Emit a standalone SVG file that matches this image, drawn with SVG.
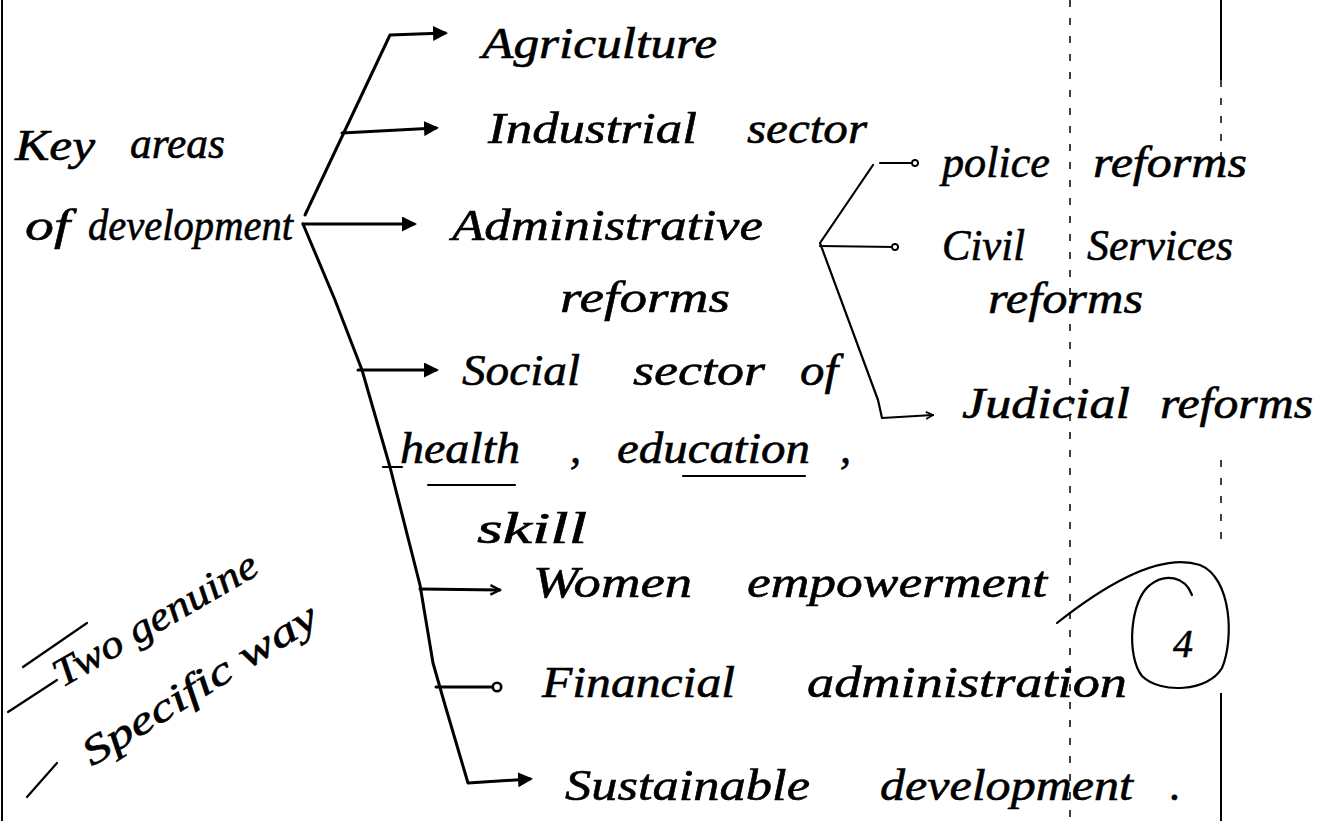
<svg xmlns="http://www.w3.org/2000/svg" width="1319" height="821" viewBox="0 0 1319 821">
  <defs>
    <marker id="tip" viewBox="0 0 10 10" refX="8" refY="5" markerWidth="5" markerHeight="5" orient="auto" markerUnits="strokeWidth">
      <path d="M0,0 L10,5 L0,10 z" fill="#000"/>
    </marker>
    <marker id="open" viewBox="0 0 10 10" refX="9" refY="5" markerWidth="4" markerHeight="4" orient="auto" markerUnits="strokeWidth">
      <path d="M1,1 L9,5 L1,9" fill="none" stroke="#000" stroke-width="2"/>
    </marker>
    <marker id="dot" viewBox="0 0 10 10" refX="5" refY="5" markerWidth="4" markerHeight="4" orient="auto" markerUnits="strokeWidth">
      <circle cx="5" cy="5" r="3.5" fill="#fff" stroke="#000" stroke-width="2.2"/>
    </marker>
  </defs>
  <style>
    .ink { fill: none; stroke: #000; stroke-width: 3; stroke-linecap: round; stroke-linejoin: round; }
    .thin { fill: none; stroke: #000; stroke-width: 2.2; stroke-linecap: round; stroke-linejoin: round; }
    .rule { fill: none; stroke: #000; stroke-width: 2; }
    .dash { fill: none; stroke: #000; stroke-width: 1.5; stroke-dasharray: 7 11; }
    text { font-family: "Liberation Serif", "DejaVu Serif", serif; font-style: italic; font-size: 44px; fill: #000; stroke: #000; stroke-width: 0.6; }
    .sm { font-size: 40px; }
  </style>

  <rect width="1319" height="821" fill="#fff"/>

  <!-- page margins -->
  <g id="page-lines">
    <line class="rule" x1="2" y1="0" x2="2" y2="821" stroke-width="3"/>
    <line class="dash" x1="1070" y1="0" x2="1070" y2="821"/>
    <line class="rule" x1="1221" y1="0" x2="1221" y2="80"/>
    <line class="dash" x1="1221" y1="80" x2="1221" y2="180"/>
    <line class="dash" x1="1221" y1="460" x2="1221" y2="545"/>
    <line class="rule" x1="1221" y1="693" x2="1221" y2="821"/>
  </g>

  <!-- branching connectors -->
  <g id="connectors">
    <path class="ink" d="M305 215 L390 35 L445 33" marker-end="url(#tip)"/>
    <path class="ink" d="M342 133 L436 128" marker-end="url(#tip)"/>
    <path class="ink" d="M303 224 L414 224" marker-end="url(#tip)"/>
    <path class="ink" d="M303 224 L335 300 L362 370 L390 467 L420 585 L433 663 L445 705 L468 783 L530 779" marker-end="url(#tip)"/>
    <path class="ink" d="M358 370 L436 370" marker-end="url(#tip)"/>
    <path class="thin" d="M383 467 L402 467"/>
    <path class="ink" d="M420 589 L500 590" marker-end="url(#open)"/>
    <path class="ink" d="M436 687 L497 687" marker-end="url(#dot)"/>
    <!-- administrative reforms bracket -->
    <path class="thin" d="M873 165 L820 243 L878 400 L882 418 L933 415" marker-end="url(#open)"/>
    <path class="thin" d="M880 163 L915 163" marker-end="url(#dot)"/>
    <path class="thin" d="M820 246 L895 247" marker-end="url(#dot)"/>
  </g>

  <g id="root">
    <text x="15" y="160" textLength="80" lengthAdjust="spacingAndGlyphs">Key</text>
    <text x="130" y="158" textLength="95" lengthAdjust="spacingAndGlyphs">areas</text>
    <text x="25" y="240" textLength="45" lengthAdjust="spacingAndGlyphs">of</text>
    <text x="88" y="240" textLength="205" lengthAdjust="spacingAndGlyphs">development</text>
  </g>

  <g id="agriculture">
    <text x="482" y="58" textLength="235" lengthAdjust="spacingAndGlyphs">Agriculture</text>
  </g>

  <g id="industrial">
    <text x="488" y="143" textLength="209" lengthAdjust="spacingAndGlyphs">Industrial</text>
    <text x="747" y="143" textLength="120" lengthAdjust="spacingAndGlyphs">sector</text>
  </g>

  <g id="administrative">
    <text x="452" y="240" textLength="311" lengthAdjust="spacingAndGlyphs">Administrative</text>
    <text x="560" y="312" textLength="170" lengthAdjust="spacingAndGlyphs">reforms</text>
  </g>

  <g id="police">
    <text x="942" y="177" textLength="108" lengthAdjust="spacingAndGlyphs">police</text>
    <text x="1093" y="177" textLength="154" lengthAdjust="spacingAndGlyphs">reforms</text>
  </g>

  <g id="civil-services">
    <text x="942" y="260" textLength="83" lengthAdjust="spacingAndGlyphs">Civil</text>
    <text x="1087" y="260" textLength="146" lengthAdjust="spacingAndGlyphs">Services</text>
    <text x="988" y="313" textLength="155" lengthAdjust="spacingAndGlyphs">reforms</text>
  </g>

  <g id="judicial">
    <text x="962" y="418" textLength="168" lengthAdjust="spacingAndGlyphs">Judicial</text>
    <text x="1160" y="418" textLength="153" lengthAdjust="spacingAndGlyphs">reforms</text>
  </g>

  <g id="social">
    <text x="462" y="385" textLength="118" lengthAdjust="spacingAndGlyphs">Social</text>
    <text x="633" y="385" textLength="132" lengthAdjust="spacingAndGlyphs">sector</text>
    <text x="800" y="385" textLength="38" lengthAdjust="spacingAndGlyphs">of</text>
    <text x="400" y="463" textLength="120" lengthAdjust="spacingAndGlyphs">health</text>
    <text x="570" y="463">,</text>
    <text x="617" y="463" textLength="193" lengthAdjust="spacingAndGlyphs">education</text>
    <text x="840" y="463">,</text>
    <line class="thin" x1="428" y1="485" x2="515" y2="485"/>
    <line class="thin" x1="683" y1="476" x2="805" y2="476"/>
    <text x="477" y="543" textLength="110" lengthAdjust="spacingAndGlyphs">skill</text>
  </g>

  <g id="women">
    <text x="533" y="597" textLength="159" lengthAdjust="spacingAndGlyphs">Women</text>
    <text x="747" y="597" textLength="300" lengthAdjust="spacingAndGlyphs">empowerment</text>
  </g>

  <g id="financial">
    <text x="542" y="697" textLength="193" lengthAdjust="spacingAndGlyphs">Financial</text>
    <text x="807" y="697" textLength="320" lengthAdjust="spacingAndGlyphs">administration</text>
  </g>

  <g id="sustainable">
    <text x="565" y="800" textLength="245" lengthAdjust="spacingAndGlyphs">Sustainable</text>
    <text x="880" y="800" textLength="253" lengthAdjust="spacingAndGlyphs">development</text>
    <text x="1170" y="800">.</text>
  </g>

  <!-- circled mark -->
  <g id="mark">
    <path class="thin" d="M1057 623 C1105 585 1160 552 1200 565 C1232 578 1234 640 1222 668 C1208 692 1160 694 1142 676 C1126 656 1130 600 1150 585 C1165 573 1185 576 1192 595"/>
    <text x="1183" y="657" text-anchor="middle" font-style="normal" class="sm">4</text>
  </g>

  <!-- side note -->
  <g id="note">
    <line class="thin" x1="23" y1="667" x2="87" y2="623"/>
    <line class="thin" x1="8" y1="712" x2="57" y2="680"/>
    <line class="thin" x1="27" y1="797" x2="57" y2="763"/>
    <text transform="translate(62 688) rotate(-30)" class="sm" textLength="230" lengthAdjust="spacingAndGlyphs">Two genuine</text>
    <text transform="translate(92 767) rotate(-32)" class="sm" textLength="270" lengthAdjust="spacingAndGlyphs">Specific way</text>
  </g>
</svg>
